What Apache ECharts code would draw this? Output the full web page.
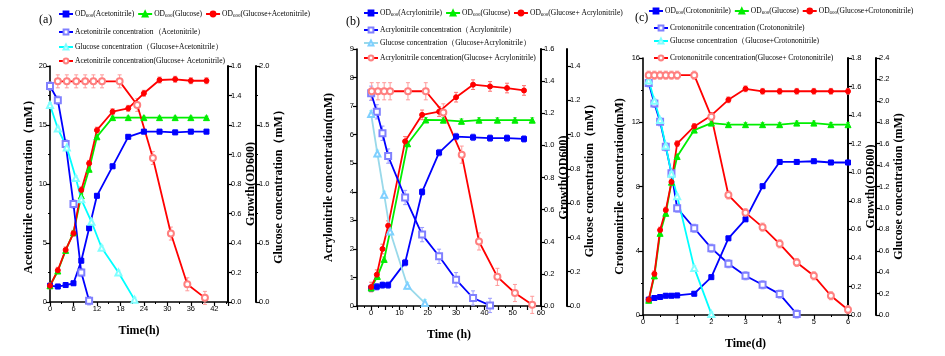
<!DOCTYPE html>
<html><head><meta charset="utf-8">
<script src="https://cdn.jsdelivr.net/npm/echarts@6/dist/echarts.min.js"></script>
<style>html,body{margin:0;padding:0;background:#fff}#c{width:945px;height:356px}</style>
</head><body><div id="c"></div>
<script>
// ---------- Panel (a): acetonitrile, time in h ----------
const tA_od = [0,2,4,6,8,10,12,16,20,24,28,32,36,40];
const odA_nitrile = [0.11,0.105,0.115,0.127,0.28,0.5,0.72,0.92,1.12,1.155,1.155,1.15,1.155,1.155];
const odA_glucose = [0.11,0.21,0.35,0.47,0.72,0.9,1.12,1.25,1.25,1.25,1.25,1.25,1.25,1.25];
const odA_mix = [0.11,0.215,0.353,0.466,0.76,0.94,1.165,1.29,1.313,1.415,1.505,1.51,1.5,1.5];
const tA_nitrile = [0,2,4,6,8,10];
const concA_nitrile = [18.3,17.1,13.4,8.3,2.5,0.1];
const tA_glc = [0,2,4.3,6.6,8,10.6,13.2,17.5,21.6];
const glcA_mix = [1.67,1.47,1.31,1.05,0.87,0.68,0.46,0.25,0.02];
const tA_mixN = [2,4.3,6.7,9,11.1,13.3,17.8,22.3,26.3,30.9,35.1,39.6];
const concA_mix = [18.7,18.7,18.7,18.7,18.7,18.7,18.7,16.7,12.2,5.8,1.5,0.35];
// typical error-bar half widths
const errA = [0.015, 0.01, 0.02, 0.35, 0.02, 0.55];

// ---------- Panel (b): acrylonitrile, time in h ----------
const tB_od = [0,2,4,6,12,18,24,30,36,42,48,54];
const odB_nitrile = [0.11,0.12,0.13,0.13,0.27,0.71,0.955,1.055,1.05,1.045,1.045,1.04];
const odB_mix = [0.118,0.195,0.355,0.5,1.025,1.19,1.21,1.3,1.378,1.367,1.357,1.342];
const tB_odGlc = [0,2.2,4.6,6.7,12.9,19.3,25.5,31.9,38.1,44.6,50.8,56.9];
const odB_glucose = [0.112,0.184,0.29,0.465,1.01,1.158,1.157,1.15,1.157,1.157,1.157,1.157];
const tB_nitrile = [0,2,4,6,12,18,24,30,36,42];
const concB_nitrile = [7.45,6.8,6.05,5.25,3.8,2.5,1.74,0.92,0.28,0.02];
const tB_glc = [0,2.2,4.6,6.7,12.8,19];
const glcB_mix = [1.12,0.89,0.65,0.435,0.118,0.017];
const tB_mixN = [0.2,2.4,4.6,6.7,13,19.3,25.5,32,38.1,44.6,50.8,56.9];
const concB_mix = [7.52,7.52,7.52,7.52,7.52,7.52,6.78,5.3,2.26,1.02,0.455,0.04];
const errB = [0.02, 0.015, 0.03, 0.25, 0.02, 0.3];

// ---------- Panel (c): crotononitrile, time in d ----------
const tC_od = [0.167,0.333,0.5,0.667,0.833,1,1.5,2,2.5,3,3.5,4,4.5,5,5.5,6];
const odC_nitrile = [0.107,0.119,0.126,0.135,0.135,0.137,0.149,0.265,0.537,0.67,0.902,1.072,1.072,1.077,1.068,1.068];
const odC_glucose = [0.103,0.274,0.572,0.712,0.93,1.11,1.295,1.344,1.333,1.333,1.333,1.333,1.344,1.344,1.333,1.333];
const odC_mix = [0.107,0.288,0.595,0.735,0.932,1.2,1.321,1.398,1.507,1.584,1.567,1.567,1.567,1.567,1.567,1.567];
const tC_nitrile = [0.167,0.333,0.5,0.667,0.833,1,1.5,2,2.5,3,3.5,4,4.5];
const concC_nitrile = [14.45,13.17,12.03,10.47,8.82,6.65,5.4,4.16,3.19,2.44,1.88,1.3,0.06];
const tC_glc = [0.167,0.333,0.5,0.667,0.833,1,1.5,2];
const glcC_mix = [2.19,2.0,1.82,1.58,1.32,1.11,0.44,0.01];
const tC_mixN = [0.167,0.333,0.5,0.667,0.833,1,1.5,2,2.5,3,3.5,4,4.5,5,5.5,6];
const concC_mix = [14.93,14.93,14.93,14.93,14.93,14.93,14.93,12.35,7.47,6.37,5.47,4.43,3.27,2.44,1.2,0.33];
const errC = [0.015, 0.015, 0.02, 0.25, 0.02, 0.25];

// ---------- tick settings ----------
const xTicksA = {min:0, max:45.5, interval:6};
const xTicksB = {min:-5, max:60, interval:5};
const xTicksC = {min:0, max:6, interval:1};
const yLeft = [{min:0,max:20,interval:5},{min:0,max:9,interval:1},{min:0,max:16,interval:4}];
const yOD = [{min:0,max:1.6,interval:0.2},{min:0,max:1.6,interval:0.2},{min:0,max:1.8,interval:0.2}];
const yGlc = [{min:0,max:2.0,interval:0.5},{min:0,max:1.5,interval:0.2},{min:0,max:2.4,interval:0.2}];

const SERIF = "'Liberation Serif','Times New Roman',serif";
const SANS = "'Liberation Sans Narrow','Liberation Sans',Arial,sans-serif";

const BLUE='#0000ff', GREEN='#00ee00', RED='#ff0000', CYAN='#00ffff', LBLUE='#99d9ea';
const PBLUE='#8080ff', PRED='#ff8080';

const grids = [
  {left:50, top:66, width:178, height:236},
  {left:357, top:49, width:184, height:257},
  {left:643, top:58, width:205, height:257}
];
const rightOffset = [28, 26, 28];
const leftNames = ['Acetonitrile concentration（mM）','Acrylonitrile concentration(mM)','Crotononitrile concentration(mM)'];
const glcNames = ['Glucose concentration（mM）','Glucose concentration（mM）','Glucose concentration (mM)'];
const xNames = ['Time(h)','Time (h)','Time(d)'];
const leftGap = [15, 22, 17];
const odGap = [14, 12, 16];
const glcGap = [14, 12, 14];

function axisBase(){
  return {
    axisLine:{show:true, onZero:false, lineStyle:{color:'#000', width:1.6}},
    axisTick:{show:true, length:4, lineStyle:{color:'#000', width:1.2}},
    minorTick:{show:true, splitNumber:2, length:2, lineStyle:{color:'#000'}},
    splitLine:{show:false},
    axisLabel:{color:'#000', fontFamily:SANS, fontSize:7.5, margin:3, showMaxLabel:true},
    nameTextStyle:{color:'#000', fontFamily:SERIF, fontWeight:'bold', fontSize:12}
  };
}

const xAxes = [xTicksA, xTicksB, xTicksC].map((t,i)=>{
  const a = axisBase();
  return Object.assign(a, {
    type:'value', gridIndex:i, min:t.min, max:t.max, interval:t.interval,
    name:xNames[i], nameLocation:'middle', nameGap:23,
    axisLabel:Object.assign(a.axisLabel, {showMaxLabel: i!==0,
      formatter: i===1 ? (v=> (v>=0 && v%10===0) ? String(v) : '') : (v=>String(v))})
  });
});

const yAxes = [];
for (let i=0;i<3;i++){
  let a = axisBase();
  yAxes.push(Object.assign(a, {type:'value', gridIndex:i, position:'left',
    min:yLeft[i].min, max:yLeft[i].max, interval:yLeft[i].interval,
    name:leftNames[i], nameLocation:'middle', nameRotate:90, nameGap:leftGap[i],
    minorTick:Object.assign(a.minorTick,{show:i!==1})}));
  a = axisBase();
  yAxes.push(Object.assign(a, {type:'value', gridIndex:i, position:'right', offset:0,
    min:yOD[i].min, max:yOD[i].max, interval:yOD[i].interval,
    axisLine:{show:true, onZero:false, lineStyle:{color:'#000', width:2}},
    minorTick:Object.assign(a.minorTick,{show:false}),
    axisLabel:Object.assign(a.axisLabel,{formatter:v=>v.toFixed(1)}),
    name:'Growth(OD600)', nameLocation:'middle', nameRotate:90, nameGap:odGap[i]}));
  a = axisBase();
  yAxes.push(Object.assign(a, {type:'value', gridIndex:i, position:'right', offset:rightOffset[i],
    min:yGlc[i].min, max:yGlc[i].max, interval:yGlc[i].interval,
    axisLine:{show:true, onZero:false, lineStyle:{color:'#000', width:2}},
    minorTick:Object.assign(a.minorTick,{show:i===0}),
    axisLabel:Object.assign(a.axisLabel,{formatter:v=>v.toFixed(1), showMaxLabel: i!==1}),
    name:glcNames[i], nameLocation:'middle', nameRotate:90, nameGap:glcGap[i]}));
}

function pairs(xs, ys){ return xs.map((x,k)=>[x, ys[k]]); }
function line(name, xs, ys, panel, yIdx, lineColor, symbol, symColor, size){
  return {
    name, type:'line', xAxisIndex:panel, yAxisIndex:panel*3+yIdx,
    data:pairs(xs,ys), symbol, symbolSize:size, showSymbol:true, z:3,
    lineStyle:{color:lineColor, width:1.8},
    itemStyle:{color:symColor, borderColor:symColor, borderWidth:1},
    emphasis:{disabled:true}, animation:false
  };
}
function errBars(s, err, color){
  return {
    type:'custom', xAxisIndex:s.xAxisIndex, yAxisIndex:s.yAxisIndex, z:2, silent:true,
    data:s.data.map(d=>[d[0], d[1], err]),
    renderItem:(params, api)=>{
      const x=api.value(0), y=api.value(1), e=api.value(2);
      const p1=api.coord([x,y+e]), p2=api.coord([x,y-e]);
      const st={stroke:color, lineWidth:1};
      return {type:'group', children:[
        {type:'line', shape:{x1:p1[0],y1:p1[1],x2:p2[0],y2:p2[1]}, style:st},
        {type:'line', shape:{x1:p1[0]-2,y1:p1[1],x2:p1[0]+2,y2:p1[1]}, style:st},
        {type:'line', shape:{x1:p2[0]-2,y1:p2[1],x2:p2[0]+2,y2:p2[1]}, style:st}
      ]};
    }
  };
}

const lines = [
  // (a)
  line('a:OD600(Acetonitrile)', tA_od, odA_nitrile, 0, 1, BLUE, 'rect', BLUE, 5),
  line('a:OD600(Glucose)', tA_od, odA_glucose, 0, 1, GREEN, 'triangle', GREEN, 6),
  line('a:OD600(Glucose+Acetonitrile)', tA_od, odA_mix, 0, 1, RED, 'circle', RED, 5),
  line('a:Acetonitrile concentration（Acetonitrile）', tA_nitrile, concA_nitrile, 0, 0, BLUE, 'emptyRect', PBLUE, 6),
  line('a:Glucose concentration（Glucose+Acetonitrile）', tA_glc, glcA_mix, 0, 2, CYAN, 'emptyTriangle', '#80ffff', 6),
  line('a:Acetonitrile concentration(Glucose+ Acetonitrile)', tA_mixN, concA_mix, 0, 0, RED, 'emptyCircle', PRED, 6),
  // (b)
  line('b:OD600(Acrylonitrile)', tB_od, odB_nitrile, 1, 1, BLUE, 'rect', BLUE, 5),
  line('b:OD600(Glucose)', tB_odGlc, odB_glucose, 1, 1, GREEN, 'triangle', GREEN, 6),
  line('b:OD600(Glucose+ Acrylonitrile)', tB_od, odB_mix, 1, 1, RED, 'circle', RED, 5),
  line('b:Acrylonitrile concentration（Acrylonitrile）', tB_nitrile, concB_nitrile, 1, 0, BLUE, 'emptyRect', PBLUE, 6),
  line('b:Glucose concentration（Glucose+Acrylonitrile）', tB_glc, glcB_mix, 1, 2, LBLUE, 'emptyTriangle', '#7fd0ff', 6),
  line('b:Acrylonitrile concentration(Glucose+ Acrylonitrile)', tB_mixN, concB_mix, 1, 0, RED, 'emptyCircle', PRED, 6),
  // (c)
  line('c:OD600(Crotononitrile)', tC_od, odC_nitrile, 2, 1, BLUE, 'rect', BLUE, 5),
  line('c:OD600(Glucose)', tC_od, odC_glucose, 2, 1, GREEN, 'triangle', GREEN, 6),
  line('c:OD600(Glucose+Crotononitrile)', tC_od, odC_mix, 2, 1, RED, 'circle', RED, 5),
  line('c:Crotononitrile concentration (Crotononitrile)', tC_nitrile, concC_nitrile, 2, 0, BLUE, 'emptyRect', PBLUE, 6),
  line('c:Glucose concentration（Glucose+Crotononitrile)', tC_glc, glcC_mix, 2, 2, CYAN, 'emptyTriangle', '#80ffff', 6),
  line('c:Crotononitrile concentration(Glucose+ Crotononitrile)', tC_mixN, concC_mix, 2, 0, RED, 'emptyCircle', PRED, 6)
];
const errs = [...errA, ...errB, ...errC];
const barColors = ['#7070ff','#70e070','#ff7070','#9a9aff','#9ff','#ff9a9a'];
const series = lines.map((s,k)=>errBars(s, errs[k], barColors[k%6])).concat(lines);

// legend rows: row 1 (three OD items) and rows 2-4; [left, centre y]
const rowPos = [
  [[58,15],[58,33],[58,48],[58,62]],
  [[363,14],[363,31],[363,44],[363,59]],
  [[648,12],[653,29],[653,42],[653,59]]
];
const legTxt = {fontFamily:SERIF, fontSize:7.5, color:'#000', padding:[0,0,0,-3],
  rich:{s:{fontSize:5, fontFamily:SERIF, verticalAlign:'bottom', padding:[4,0,0,0]}}};
const legends = [];
for (let p=0;p<3;p++){
  const names = lines.slice(p*6, p*6+6).map(s=>s.name);
  const rows = [names.slice(0,3), [names[3]], [names[4]], [names[5]]];
  rows.forEach((r,ri)=>legends.push({
    data:r, left:rowPos[p][ri][0], top:rowPos[p][ri][1]-5, padding:0, orient:'horizontal',
    itemWidth:14, itemHeight:6, itemGap:3, selectedMode:false,
    formatter:n=>n.slice(2).replace('OD600','OD{s|600}'), textStyle:legTxt
  }));
}

const option = {
  backgroundColor:'#fff',
  animation:false,
  title:[
    {text:'(a)', left:34, top:9, textStyle:{fontFamily:SERIF, fontWeight:'normal', fontSize:12, color:'#000'}},
    {text:'(b)', left:341, top:11, textStyle:{fontFamily:SERIF, fontWeight:'normal', fontSize:12, color:'#000'}},
    {text:'(c)', left:630, top:7, textStyle:{fontFamily:SERIF, fontWeight:'normal', fontSize:12, color:'#000'}}
  ],
  grid:grids.map(g=>Object.assign({containLabel:false}, g)),
  xAxis:xAxes, yAxis:yAxes, legend:legends, series
};
const chart = echarts.init(document.getElementById('c'));
chart.setOption(option);
</script></body></html>
